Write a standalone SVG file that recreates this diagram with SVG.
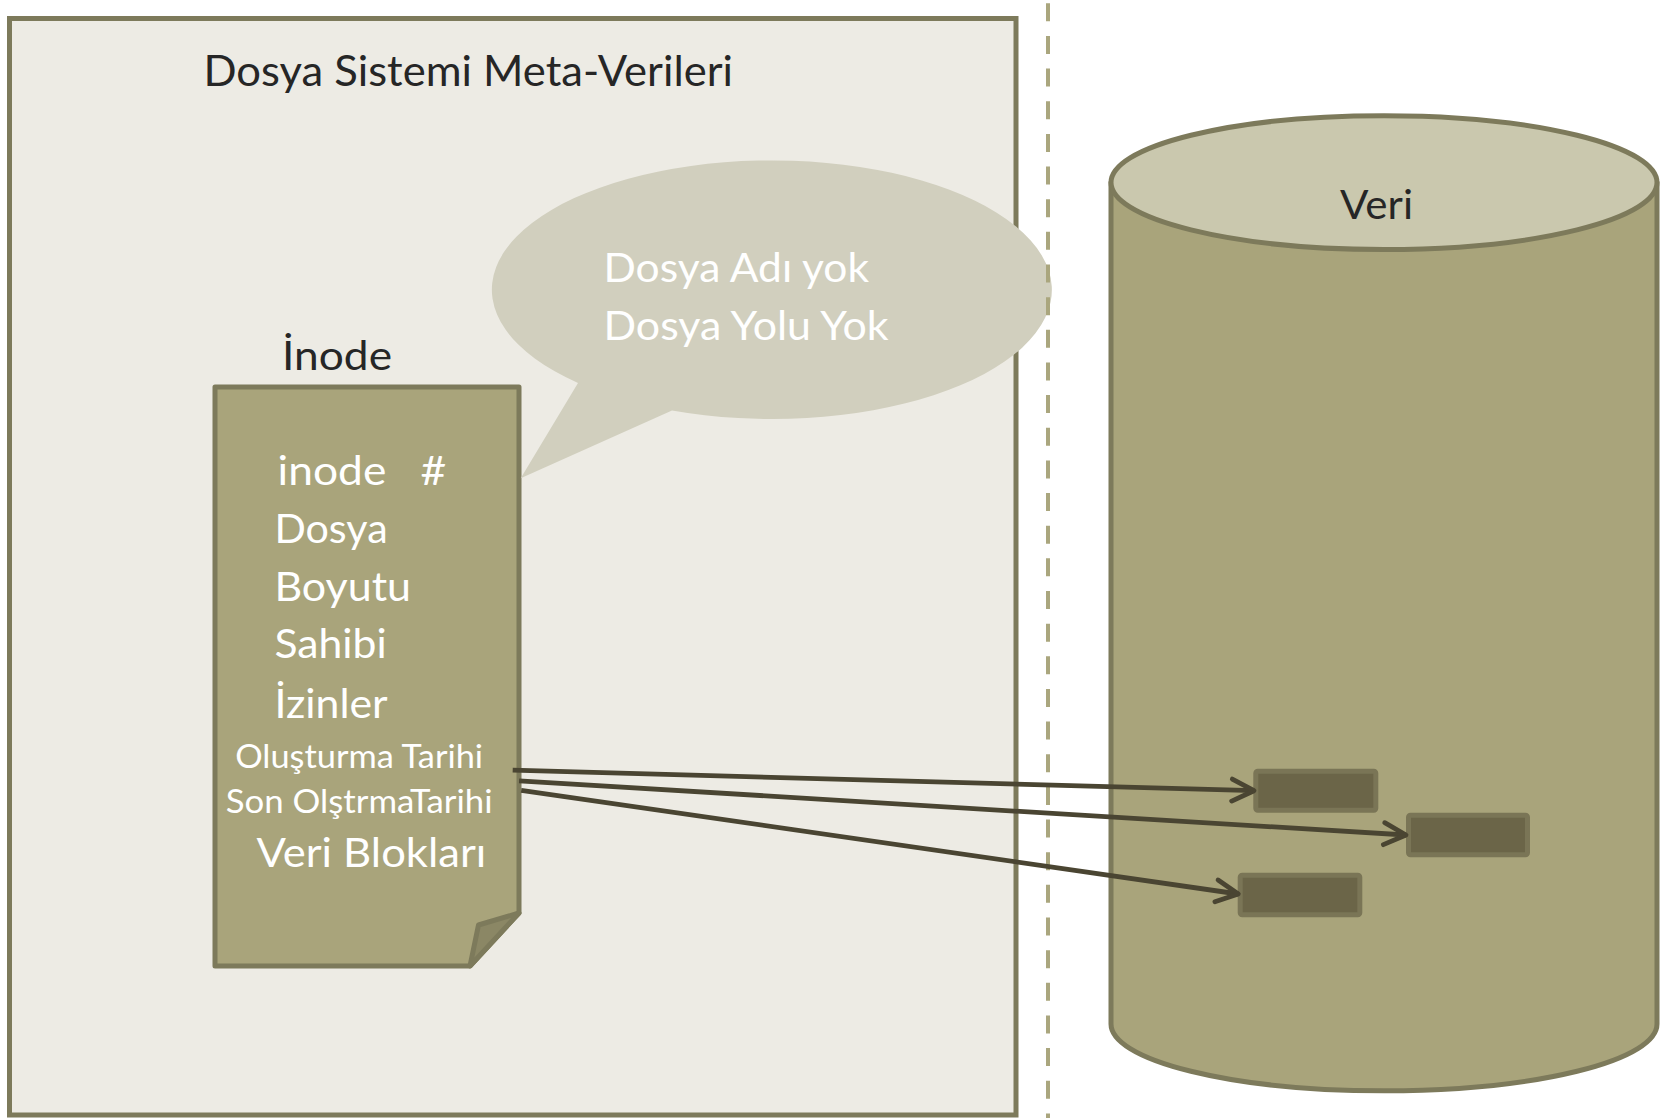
<svg xmlns="http://www.w3.org/2000/svg" width="1661" height="1118" viewBox="0 0 1661 1118">
<style>
  text { font-family: Lato, "Open Sans", "DejaVu Sans", sans-serif; }
  .dark { fill: #262626; }
  .white { fill: #ffffff; }
  .big { font-size: 41px; }
  .small { font-size: 32.5px; }
  .title { font-size: 42px; }
  .conn { stroke: #4a4532; stroke-width: 4.8; fill: none; marker-end: url(#chev); }
  .block { fill: #6b6548; stroke: #7a7556; stroke-width: 5; }
</style>
<defs>
  <marker id="chev" markerUnits="userSpaceOnUse" viewBox="0 0 32 32" markerWidth="32" markerHeight="32" refX="27" refY="16" orient="auto">
    <path d="M5,5 L27,16 L5,27" fill="none" stroke="#4a4532" stroke-width="4.8" stroke-linecap="round" stroke-linejoin="round"/>
  </marker>
</defs>
<rect x="0" y="0" width="1661" height="1118" fill="#ffffff"/>

<g id="metadata-frame">
  <rect x="9.5" y="18.5" width="1006.5" height="1096.5" fill="#edebe4" stroke="#7d7a5b" stroke-width="5"/>
  <text class="dark title" x="203.5" y="85.8" textLength="529.5" lengthAdjust="spacingAndGlyphs">Dosya Sistemi Meta-Verileri</text>
</g>

<g id="inode-label">
  <text class="dark big" x="282" y="370" textLength="110" lengthAdjust="spacingAndGlyphs">İnode</text>
</g>

<g id="inode-doc">
  <path d="M215,387 H519 V913 L470,966 H215 Z" fill="#a9a47b" stroke="#7d7a5b" stroke-width="5" stroke-linejoin="round"/>
  <path d="M519,913 L478.5,925 L470,966 Z" fill="#8b8765" stroke="#7d7a5b" stroke-width="5" stroke-linejoin="round"/>
  <text class="white big" x="277.6" y="484.5" textLength="168.5" lengthAdjust="spacingAndGlyphs" xml:space="preserve">inode   #</text>
  <text class="white big" x="274.4" y="542.5" textLength="113.3" lengthAdjust="spacingAndGlyphs">Dosya</text>
  <text class="white big" x="274.4" y="600.5" textLength="136.6" lengthAdjust="spacingAndGlyphs">Boyutu</text>
  <text class="white big" x="274.4" y="658" textLength="112.3" lengthAdjust="spacingAndGlyphs">Sahibi</text>
  <text class="white big" x="274.4" y="718" textLength="113.3" lengthAdjust="spacingAndGlyphs">İzinler</text>
  <text class="white small" x="235.2" y="767.5" textLength="247.9" lengthAdjust="spacingAndGlyphs">Oluşturma Tarihi</text>
  <text class="white small" x="225.7" y="812.8" textLength="266.9" lengthAdjust="spacingAndGlyphs">Son OlştrmaTarihi</text>
  <text class="white big" x="256.4" y="866.5" textLength="229.9" lengthAdjust="spacingAndGlyphs">Veri Blokları</text>
</g>

<g id="callout">
  <path d="M578,383 A280,129.3 0 1 1 672,410.5 L520.7,478.3 Z" fill="#d1cfbe"/>
  <text class="white big" x="603.5" y="282" textLength="265.5" lengthAdjust="spacingAndGlyphs">Dosya Adı yok</text>
  <text class="white big" x="603.5" y="340" textLength="285" lengthAdjust="spacingAndGlyphs">Dosya Yolu Yok</text>
</g>

<g id="divider">
  <line x1="1048" y1="3.3" x2="1048" y2="1118" stroke="#aaa67e" stroke-width="4" stroke-dasharray="18 14.65"/>
</g>

<g id="data-cylinder">
  <path d="M1111,182.6 V1023.9 A273,66.9 0 0 0 1657,1023.9 V182.6 Z" fill="#a9a47b" stroke="#7d7a5b" stroke-width="5" stroke-linejoin="round"/>
  <ellipse cx="1384" cy="182.6" rx="273" ry="66.9" fill="#cac8ae" stroke="#7d7a5b" stroke-width="5"/>
  <text class="dark big" x="1340" y="218.5" textLength="73" lengthAdjust="spacingAndGlyphs">Veri</text>
</g>

<g id="block-1"><rect class="block" x="1255.8" y="771.2" width="120" height="39" rx="2"/></g>
<g id="block-2"><rect class="block" x="1408.5" y="815.2" width="119" height="39.6" rx="2"/></g>
<g id="block-3"><rect class="block" x="1240.2" y="875.2" width="119.6" height="39.6" rx="2"/></g>

<g id="connectors">
  <line class="conn" x1="512.7" y1="770.2" x2="1254" y2="790.7"/>
  <line class="conn" x1="519.1" y1="780.8" x2="1406" y2="835"/>
  <line class="conn" x1="521.2" y1="790.3" x2="1238.3" y2="894"/>
</g>
</svg>
